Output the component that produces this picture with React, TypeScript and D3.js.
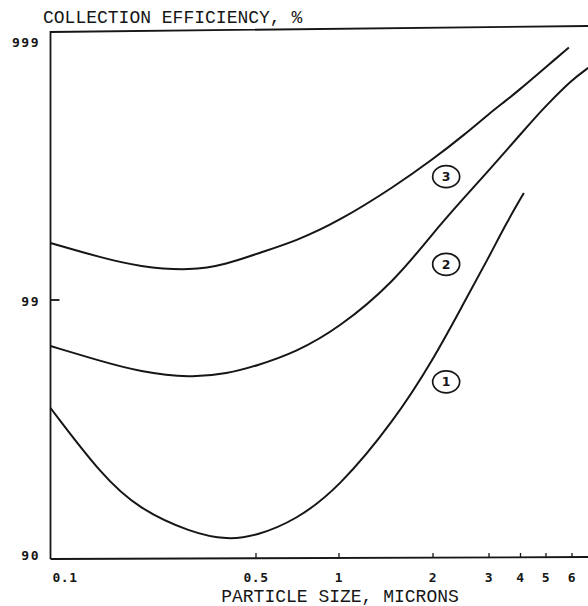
import React from "react"
import * as d3 from "d3"

// particle size (microns) and collection efficiency (%)
const sizes1 = [0.1, 0.15, 0.2, 0.3, 0.4, 0.5, 0.7, 1, 1.5, 2, 2.5, 3, 3.5, 4.12]
const eff1 = [97.388, 95.22, 93.59, 92.1, 91.554, 91.849, 92.93, 94.704, 97.069, 98.294, 98.973, 99.318, 99.491, 99.614]

const sizes2 = [0.1, 0.15, 0.2, 0.3, 0.4, 0.5, 0.7, 1, 1.5, 2, 2.5, 3, 3.5, 4, 4.5, 5, 6, 6.8]
const eff2 = [98.494, 98.272, 98.112, 98.0, 98.077, 98.202, 98.412, 98.718, 99.148, 99.449, 99.596, 99.685, 99.734, 99.771, 99.8, 99.822, 99.859, 99.873]

const sizes3 = [0.1, 0.15, 0.2, 0.3, 0.4, 0.5, 0.7, 1, 1.5, 2, 2.5, 3, 3.5, 4, 4.5, 5, 5.87]
const eff3 = [99.398, 99.312, 99.257, 99.227, 99.274, 99.336, 99.408, 99.504, 99.634, 99.714, 99.769, 99.809, 99.83, 99.847, 99.862, 99.874, 99.894]

const curveNames = ["1", "2", "3"]
const labelSize = [2.2, 2.2, 2.2]
const labelEff = [97.93, 99.272, 99.666]

const xTicks = [0.1, 0.5, 1, 2, 3, 4, 5, 6, 7]
const xTickLabels = ["0.1", "0.5", "1", "2", "3", "4", "5", "6", "7"]
const yTicks = [99.9, 99, 90]
const yTickLabels = ["999", "99", "90"]

const width = 588
const height = 606
const ink = "#161616"

const App = () => {
  // the scanned axis is slightly stretched, so the log scale is calibrated on its ticks
  const xScale = d3
    .scaleLog()
    .domain([0.1, 0.5, 1, 2, 3, 4, 5, 6, 7])
    .range([50.5, 256, 339, 433, 489, 520.5, 546, 572, 592])
  // efficiency plotted as log of penetration (100 - eff)
  const yScale = d3.scaleLog().domain([10, 0.1]).range([559, 41])
  const y = (e: number) => yScale(100 - e)

  const x0 = xScale(0.1)
  const yBottom = yScale(10)
  const frameTop = yScale(0.1) - 9

  const line = d3
    .line<[number, number]>()
    .x((d) => xScale(d[0]))
    .y((d) => y(d[1]))
    .curve(d3.curveBasis)

  const series = [
    d3.zip(sizes1, eff1),
    d3.zip(sizes2, eff2),
    d3.zip(sizes3, eff3),
  ] as [number, number][][]

  const mono = "'Liberation Mono', 'Courier New', monospace"
  const tickFont = "'DejaVu Sans Mono', monospace"

  return (
    <svg
      width={width}
      height={height}
      style={{ position: "absolute", left: 0, top: 0, background: "#fff" }}
    >
      <text x={43} y={23} fontFamily={mono} fontSize={18} fill={ink}>
        COLLECTION EFFICIENCY, %
      </text>

      {/* frame */}
      <path
        fill="none"
        stroke={ink}
        strokeWidth={1.8}
        d={`M${x0},${yBottom}V${frameTop}L${width},${frameTop - 6}`}
      />
      <line x1={x0} x2={width} y1={yBottom} y2={yBottom - 2} stroke={ink} strokeWidth={1.8} />

      {xTicks.slice(1).map((t) => (
        <line
          key={t}
          x1={xScale(t)}
          x2={xScale(t)}
          y1={yBottom - 1}
          y2={yBottom - 6}
          stroke={ink}
          strokeWidth={1.3}
        />
      ))}
      <line x1={x0} x2={x0 + 9} y1={y(99)} y2={y(99)} stroke={ink} strokeWidth={1.8} />

      {xTicks.map((t, i) => (
        <text
          key={t}
          x={i === 0 ? x0 + 2 : xScale(t)}
          y={582}
          textAnchor={i === 0 ? "start" : "middle"}
          fontFamily={tickFont}
          fontWeight="bold"
          fontSize={13}
          letterSpacing={0.5}
          fill={ink}
        >
          {xTickLabels[i]}
        </text>
      ))}
      {yTicks.map((t, i) => (
        <text
          key={t}
          x={40}
          y={y(t) + (i === 2 ? -3 : 2)}
          textAnchor="end"
          dominantBaseline="middle"
          fontFamily={tickFont}
          fontWeight="bold"
          fontSize={13}
          letterSpacing={1.5}
          fill={ink}
        >
          {yTickLabels[i]}
        </text>
      ))}

      <text
        x={340}
        y={602}
        textAnchor="middle"
        fontFamily={mono}
        fontSize={18}
        fill={ink}
      >
        PARTICLE SIZE, MICRONS
      </text>

      {series.map((s, i) => (
        <path key={i} fill="none" stroke={ink} strokeWidth={2} d={line(s) || ""} />
      ))}

      {curveNames.map((n, i) => (
        <g key={n} transform={`translate(${xScale(labelSize[i])},${y(labelEff[i])})`}>
          <ellipse rx={13.5} ry={11} fill="#fff" stroke={ink} strokeWidth={1.7} />
          <text
            textAnchor="middle"
            dominantBaseline="central"
            fontFamily="'DejaVu Sans', sans-serif"
            fontWeight="bold"
            fontSize={12.5}
            fill={ink}
          >
            {n}
          </text>
        </g>
      ))}
    </svg>
  )
}

export default App
